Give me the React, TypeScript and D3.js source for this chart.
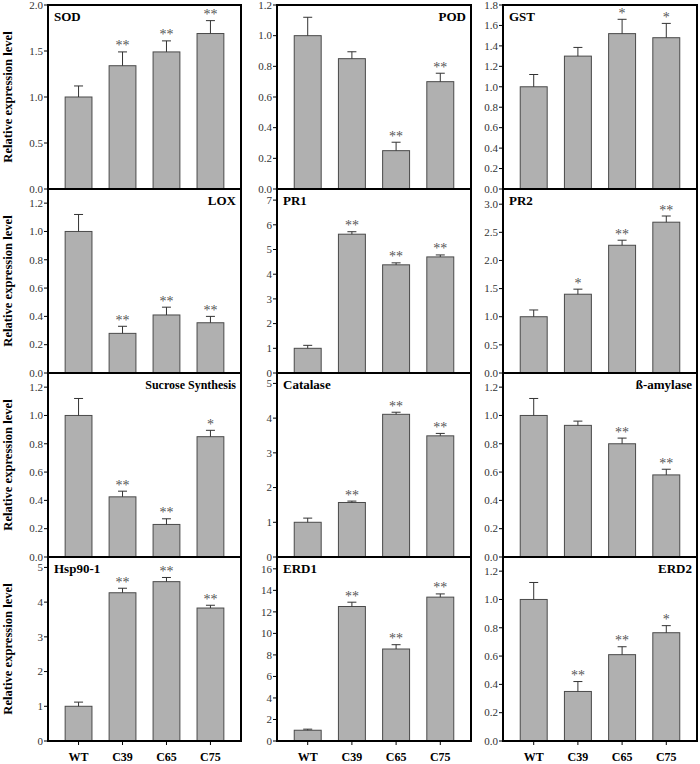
import React from 'react';
import * as d3 from 'd3';

const categories = ['WT', 'C39', 'C65', 'C75'];
const genes = ['SOD', 'POD', 'GST', 'LOX', 'PR1', 'PR2', 'Sucrose Synthesis', 'Catalase', 'ß-amylase', 'Hsp90-1', 'ERD1', 'ERD2'];
const titleSide = ['left', 'right', 'left', 'right', 'left', 'left', 'right', 'left', 'right', 'left', 'left', 'right'];
const means = [
  [1.0, 1.34, 1.49, 1.69],
  [1.0, 0.85, 0.25, 0.70],
  [1.0, 1.30, 1.52, 1.48],
  [1.0, 0.28, 0.41, 0.355],
  [1.0, 5.62, 4.38, 4.70],
  [1.0, 1.40, 2.27, 2.68],
  [1.0, 0.425, 0.23, 0.85],
  [1.0, 1.57, 4.11, 3.49],
  [1.0, 0.93, 0.80, 0.58],
  [1.0, 4.27, 4.59, 3.83],
  [1.0, 12.5, 8.55, 13.37],
  [1.0, 0.35, 0.61, 0.765],
];
const errors = [
  [0.12, 0.15, 0.12, 0.14],
  [0.12, 0.045, 0.055, 0.055],
  [0.12, 0.085, 0.14, 0.14],
  [0.12, 0.05, 0.055, 0.045],
  [0.12, 0.1, 0.08, 0.08],
  [0.12, 0.09, 0.09, 0.11],
  [0.12, 0.04, 0.04, 0.045],
  [0.12, 0.04, 0.06, 0.07],
  [0.12, 0.03, 0.04, 0.04],
  [0.12, 0.13, 0.12, 0.08],
  [0.1, 0.4, 0.4, 0.3],
  [0.12, 0.07, 0.056, 0.05],
];
const signif = [
  ['', '**', '**', '**'],
  ['', '', '**', '**'],
  ['', '', '*', '*'],
  ['', '**', '**', '**'],
  ['', '**', '**', '**'],
  ['', '*', '**', '**'],
  ['', '**', '**', '*'],
  ['', '**', '**', '**'],
  ['', '', '**', '**'],
  ['', '**', '**', '**'],
  ['', '**', '**', '**'],
  ['', '**', '**', '*'],
];
const yMax = [2.0, 1.2, 1.8, 1.3, 7.45, 3.27, 1.3, 5.3, 1.3, 5.3, 17.1, 1.3];
const tickStep = [0.5, 0.2, 0.2, 0.2, 1, 0.5, 0.2, 1, 0.2, 1, 2, 0.2];
const tickMax = [2.0, 1.2, 1.8, 1.2, 7, 3.0, 1.2, 5, 1.2, 5, 16, 1.2];
const tickDecimals = [1, 1, 1, 1, 0, 1, 1, 0, 1, 0, 0, 1];
const yAxisTitle = 'Relative expression level';

const colEdges = [[48, 241], [277, 471], [503, 697]];
const rowEdges = [5, 189, 373, 557, 741];
const FONT = '"Liberation Serif", "Times New Roman", serif';

function Panel({ idx }: { idx: number }) {
  const col = idx % 3;
  const row = Math.floor(idx / 3);
  const [x0, x1] = colEdges[col];
  const y0 = rowEdges[row];
  const y1 = rowEdges[row + 1];
  const x = d3.scaleBand<string>().domain(categories).range([x0, x1]).padding(0.39);
  const y = d3.scaleLinear().domain([0, yMax[idx]]).range([y1, y0]);
  const ticks = d3.range(0, tickMax[idx] + tickStep[idx] / 2, tickStep[idx]);
  const fmt = d3.format(tickDecimals[idx] === 1 ? '.1f' : 'd');
  const bw = x.bandwidth();
  const capW = 9;
  return (
    <g>
      {categories.map((c, i) => {
        const m = means[idx][i];
        const e = errors[idx][i];
        const bx = x(c)!;
        const cx = bx + bw / 2;
        const top = y(m);
        const et = y(m + e);
        return (
          <g key={c}>
            <rect x={bx} y={top} width={bw} height={y1 - top} fill="#b0b0b0" stroke="#4a4a4a" strokeWidth={1} />
            <line x1={cx} x2={cx} y1={top} y2={et} stroke="#333" strokeWidth={1} />
            <line x1={cx - capW / 2} x2={cx + capW / 2} y1={et} y2={et} stroke="#333" strokeWidth={1} />
            {signif[idx][i] && (
              <text x={cx} y={et - 1.5} textAnchor="middle" style={{ fontFamily: FONT }} fontSize={14} fill="#555">
                {signif[idx][i]}
              </text>
            )}
          </g>
        );
      })}
      {ticks.map((t) => (
        <g key={t}>
          <line x1={x0 - 4} x2={x0} y1={y(t)} y2={y(t)} stroke="#000" strokeWidth={1} />
          <text x={x0 - 5} y={y(t)} dy="0.34em" textAnchor="end" style={{ fontFamily: FONT }} fontSize={11} fill="#333">
            {fmt(t)}
          </text>
        </g>
      ))}
      <rect x={x0} y={y0} width={x1 - x0} height={y1 - y0} fill="none" stroke="#000" strokeWidth={2} />
      <text
        x={titleSide[idx] === 'left' ? x0 + 6 : x1 - 5}
        y={y0 + 16}
        textAnchor={titleSide[idx] === 'left' ? 'start' : 'end'}
        style={{ fontFamily: FONT }}
        fontWeight="bold"
        fontSize={genes[idx] === 'Sucrose Synthesis' ? 12 : 13}
        fill="#000"
      >
        {genes[idx]}
      </text>
      {row === 3 &&
        categories.map((c) => {
          const cx = x(c)! + bw / 2;
          return (
            <g key={'xt' + c}>
              <line x1={cx} x2={cx} y1={y1} y2={y1 + 4} stroke="#000" strokeWidth={1} />
              <text x={cx} y={761} textAnchor="middle" style={{ fontFamily: FONT }} fontWeight="bold" fontSize={12} fill="#000">
                {c}
              </text>
            </g>
          );
        })}
      {col === 0 && (
        <text
          transform={`translate(12,${(y0 + y1) / 2}) rotate(-90)`}
          textAnchor="middle"
          style={{ fontFamily: FONT }}
          fontWeight="bold"
          fontSize={12.6}
          fill="#000"
        >
          {yAxisTitle}
        </text>
      )}
    </g>
  );
}

export default function App() {
  return (
    <svg width={700} height={764} style={{ position: 'absolute', left: 0, top: 0, background: '#fff' }}>
      <rect x={0} y={0} width={700} height={764} fill="#fff" />
      {genes.map((g, i) => (
        <Panel key={g} idx={i} />
      ))}
    </svg>
  );
}
